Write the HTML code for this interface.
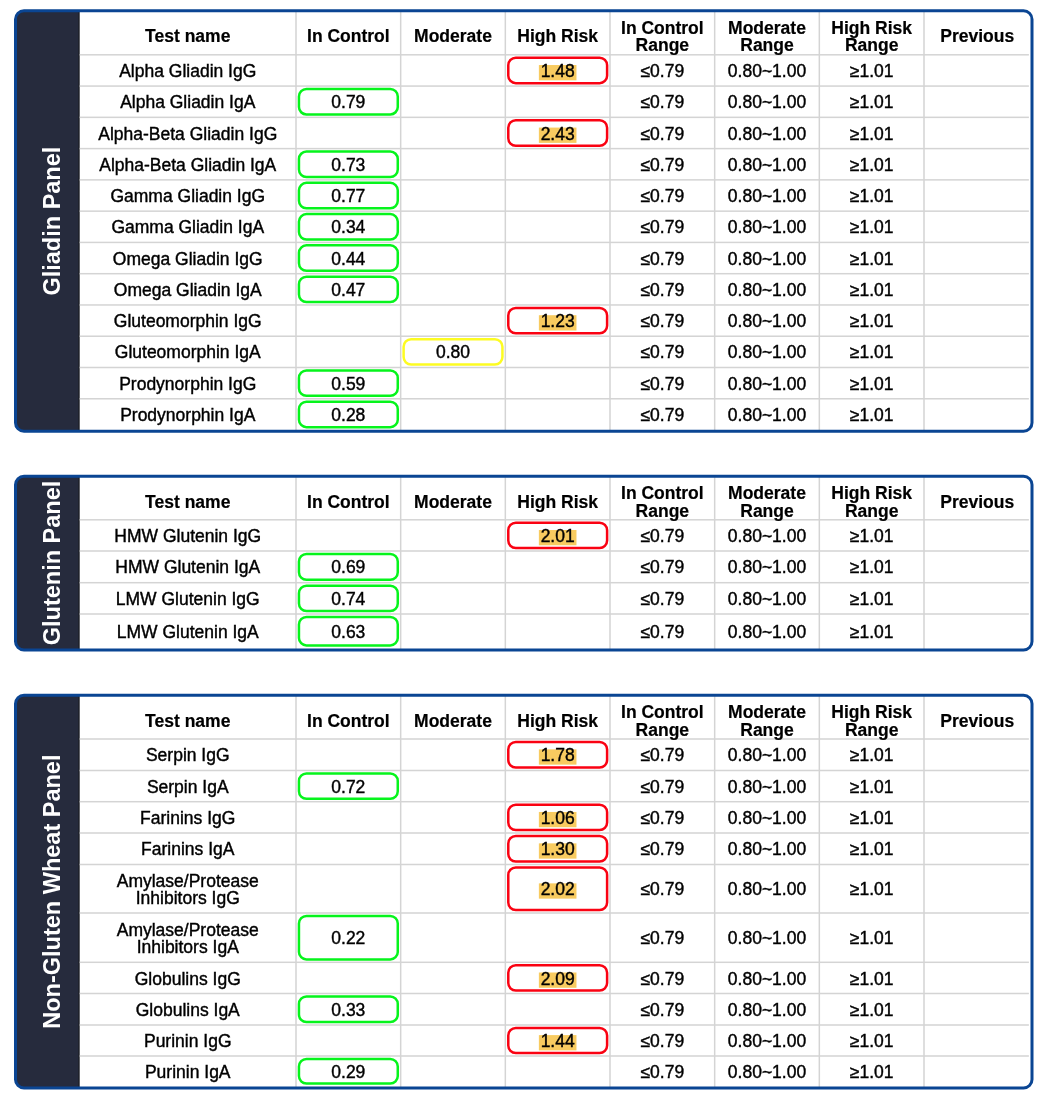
<!DOCTYPE html>
<html><head><meta charset="utf-8"><title>Wheat Panels</title>
<style>
html,body{margin:0;padding:0;background:#fff;}
body{width:1048px;height:1102px;overflow:hidden;}
svg{display:block;will-change:transform;}
text{font-family:"Liberation Sans",sans-serif;fill:#000;text-anchor:middle;}
.bd{font-size:17.5px;stroke:#000;stroke-width:0.4px;}
.hd{font-size:17.5px;font-weight:bold;stroke:#000;stroke-width:0.2px;}
.lbl{font-size:23.5px;font-weight:bold;fill:#fff;}
</style></head>
<body>
<svg width="1048" height="1102" viewBox="0 0 1048 1102">
<clipPath id="clip0"><rect x="15.5" y="10.8" width="1016.5" height="420.45" rx="8.5"/></clipPath>
<g clip-path="url(#clip0)">
<rect x="15.5" y="10.8" width="1016.5" height="420.45" fill="#fff"/>
<rect x="15.5" y="10.8" width="63.4" height="420.45" fill="#262b3d"/>
<rect x="78.1" y="10.8" width="1.6" height="420.45" fill="#1d2029"/>
<rect x="79.7" y="54.05" width="949.2" height="1.5" fill="#d4d4d4"/>
<rect x="79.7" y="85.32" width="949.2" height="1.5" fill="#d4d4d4"/>
<rect x="79.7" y="116.59" width="949.2" height="1.5" fill="#d4d4d4"/>
<rect x="79.7" y="147.86" width="949.2" height="1.5" fill="#d4d4d4"/>
<rect x="79.7" y="179.13" width="949.2" height="1.5" fill="#d4d4d4"/>
<rect x="79.7" y="210.39999999999998" width="949.2" height="1.5" fill="#d4d4d4"/>
<rect x="79.7" y="241.67000000000002" width="949.2" height="1.5" fill="#d4d4d4"/>
<rect x="79.7" y="272.94" width="949.2" height="1.5" fill="#d4d4d4"/>
<rect x="79.7" y="304.21" width="949.2" height="1.5" fill="#d4d4d4"/>
<rect x="79.7" y="335.48" width="949.2" height="1.5" fill="#d4d4d4"/>
<rect x="79.7" y="366.75" width="949.2" height="1.5" fill="#d4d4d4"/>
<rect x="79.7" y="398.02" width="949.2" height="1.5" fill="#d4d4d4"/>
<rect x="295.25" y="10.8" width="1.5" height="420.45" fill="#d4d4d4"/>
<rect x="399.92" y="10.8" width="1.5" height="420.45" fill="#d4d4d4"/>
<rect x="504.58" y="10.8" width="1.5" height="420.45" fill="#d4d4d4"/>
<rect x="609.25" y="10.8" width="1.5" height="420.45" fill="#d4d4d4"/>
<rect x="713.92" y="10.8" width="1.5" height="420.45" fill="#d4d4d4"/>
<rect x="818.58" y="10.8" width="1.5" height="420.45" fill="#d4d4d4"/>
<rect x="923.25" y="10.8" width="1.5" height="420.45" fill="#d4d4d4"/>
</g>
<rect x="15.5" y="10.8" width="1016.5" height="420.45" rx="8.5" fill="none" stroke="#0a4593" stroke-width="3"/>
<text x="52.3" y="221.12" transform="rotate(-90 52.3 221.12)" text-anchor="middle" dominant-baseline="central" class="lbl">Gliadin Panel</text>
<text x="187.75" y="42.10" class="hd">Test name</text>
<text x="348.34" y="42.10" class="hd">In Control</text>
<text x="453.00" y="42.10" class="hd">Moderate</text>
<text x="557.66" y="42.10" class="hd">High Risk</text>
<text x="662.34" y="33.70" class="hd">In Control</text>
<text x="662.34" y="51.10" class="hd">Range</text>
<text x="767.00" y="33.70" class="hd">Moderate</text>
<text x="767.00" y="51.10" class="hd">Range</text>
<text x="871.66" y="33.70" class="hd">High Risk</text>
<text x="871.66" y="51.10" class="hd">Range</text>
<text x="977.25" y="42.10" class="hd">Previous</text>
<text x="187.75" y="77.03" class="bd">Alpha Gliadin IgG</text>
<rect x="508.28" y="57.75" width="98.82" height="25.42" rx="7.5" fill="none" stroke="#fa0212" stroke-width="2.5"/>
<rect x="538.87" y="65.03" width="37.6" height="15.3" fill="#f8cb60"/>
<text x="557.66" y="77.03" class="bd">1.48</text>
<text x="662.34" y="77.03" class="bd">≤0.79</text>
<text x="767.00" y="77.03" class="bd">0.80~1.00</text>
<text x="871.66" y="77.03" class="bd">≥1.01</text>
<text x="187.75" y="108.30" class="bd">Alpha Gliadin IgA</text>
<rect x="298.95" y="89.02" width="98.82" height="25.42" rx="7.5" fill="none" stroke="#06f41c" stroke-width="2.5"/>
<text x="348.34" y="108.30" class="bd">0.79</text>
<text x="662.34" y="108.30" class="bd">≤0.79</text>
<text x="767.00" y="108.30" class="bd">0.80~1.00</text>
<text x="871.66" y="108.30" class="bd">≥1.01</text>
<text x="187.75" y="139.58" class="bd">Alpha-Beta Gliadin IgG</text>
<rect x="508.28" y="120.29" width="98.82" height="25.42" rx="7.5" fill="none" stroke="#fa0212" stroke-width="2.5"/>
<rect x="538.87" y="127.58" width="37.6" height="15.3" fill="#f8cb60"/>
<text x="557.66" y="139.58" class="bd">2.43</text>
<text x="662.34" y="139.58" class="bd">≤0.79</text>
<text x="767.00" y="139.58" class="bd">0.80~1.00</text>
<text x="871.66" y="139.58" class="bd">≥1.01</text>
<text x="187.75" y="170.84" class="bd">Alpha-Beta Gliadin IgA</text>
<rect x="298.95" y="151.56" width="98.82" height="25.42" rx="7.5" fill="none" stroke="#06f41c" stroke-width="2.5"/>
<text x="348.34" y="170.84" class="bd">0.73</text>
<text x="662.34" y="170.84" class="bd">≤0.79</text>
<text x="767.00" y="170.84" class="bd">0.80~1.00</text>
<text x="871.66" y="170.84" class="bd">≥1.01</text>
<text x="187.75" y="202.11" class="bd">Gamma Gliadin IgG</text>
<rect x="298.95" y="182.83" width="98.82" height="25.42" rx="7.5" fill="none" stroke="#06f41c" stroke-width="2.5"/>
<text x="348.34" y="202.11" class="bd">0.77</text>
<text x="662.34" y="202.11" class="bd">≤0.79</text>
<text x="767.00" y="202.11" class="bd">0.80~1.00</text>
<text x="871.66" y="202.11" class="bd">≥1.01</text>
<text x="187.75" y="233.38" class="bd">Gamma Gliadin IgA</text>
<rect x="298.95" y="214.10" width="98.82" height="25.42" rx="7.5" fill="none" stroke="#06f41c" stroke-width="2.5"/>
<text x="348.34" y="233.38" class="bd">0.34</text>
<text x="662.34" y="233.38" class="bd">≤0.79</text>
<text x="767.00" y="233.38" class="bd">0.80~1.00</text>
<text x="871.66" y="233.38" class="bd">≥1.01</text>
<text x="187.75" y="264.66" class="bd">Omega Gliadin IgG</text>
<rect x="298.95" y="245.37" width="98.82" height="25.42" rx="7.5" fill="none" stroke="#06f41c" stroke-width="2.5"/>
<text x="348.34" y="264.66" class="bd">0.44</text>
<text x="662.34" y="264.66" class="bd">≤0.79</text>
<text x="767.00" y="264.66" class="bd">0.80~1.00</text>
<text x="871.66" y="264.66" class="bd">≥1.01</text>
<text x="187.75" y="295.93" class="bd">Omega Gliadin IgA</text>
<rect x="298.95" y="276.64" width="98.82" height="25.42" rx="7.5" fill="none" stroke="#06f41c" stroke-width="2.5"/>
<text x="348.34" y="295.93" class="bd">0.47</text>
<text x="662.34" y="295.93" class="bd">≤0.79</text>
<text x="767.00" y="295.93" class="bd">0.80~1.00</text>
<text x="871.66" y="295.93" class="bd">≥1.01</text>
<text x="187.75" y="327.20" class="bd">Gluteomorphin IgG</text>
<rect x="508.28" y="307.91" width="98.82" height="25.42" rx="7.5" fill="none" stroke="#fa0212" stroke-width="2.5"/>
<rect x="538.87" y="315.20" width="37.6" height="15.3" fill="#f8cb60"/>
<text x="557.66" y="327.20" class="bd">1.23</text>
<text x="662.34" y="327.20" class="bd">≤0.79</text>
<text x="767.00" y="327.20" class="bd">0.80~1.00</text>
<text x="871.66" y="327.20" class="bd">≥1.01</text>
<text x="187.75" y="358.47" class="bd">Gluteomorphin IgA</text>
<rect x="403.62" y="339.18" width="98.81" height="25.42" rx="7.5" fill="none" stroke="#fdfc22" stroke-width="2.5"/>
<text x="453.00" y="358.47" class="bd">0.80</text>
<text x="662.34" y="358.47" class="bd">≤0.79</text>
<text x="767.00" y="358.47" class="bd">0.80~1.00</text>
<text x="871.66" y="358.47" class="bd">≥1.01</text>
<text x="187.75" y="389.74" class="bd">Prodynorphin IgG</text>
<rect x="298.95" y="370.45" width="98.82" height="25.42" rx="7.5" fill="none" stroke="#06f41c" stroke-width="2.5"/>
<text x="348.34" y="389.74" class="bd">0.59</text>
<text x="662.34" y="389.74" class="bd">≤0.79</text>
<text x="767.00" y="389.74" class="bd">0.80~1.00</text>
<text x="871.66" y="389.74" class="bd">≥1.01</text>
<text x="187.75" y="421.00" class="bd">Prodynorphin IgA</text>
<rect x="298.95" y="401.72" width="98.82" height="25.42" rx="7.5" fill="none" stroke="#06f41c" stroke-width="2.5"/>
<text x="348.34" y="421.00" class="bd">0.28</text>
<text x="662.34" y="421.00" class="bd">≤0.79</text>
<text x="767.00" y="421.00" class="bd">0.80~1.00</text>
<text x="871.66" y="421.00" class="bd">≥1.01</text>
<clipPath id="clip1"><rect x="15.5" y="476.2" width="1016.5" height="173.8" rx="8.5"/></clipPath>
<g clip-path="url(#clip1)">
<rect x="15.5" y="476.2" width="1016.5" height="173.8" fill="#fff"/>
<rect x="15.5" y="476.2" width="63.4" height="173.8" fill="#262b3d"/>
<rect x="78.1" y="476.2" width="1.6" height="173.8" fill="#1d2029"/>
<rect x="79.7" y="519.05" width="949.2" height="1.5" fill="#d4d4d4"/>
<rect x="79.7" y="550.25" width="949.2" height="1.5" fill="#d4d4d4"/>
<rect x="79.7" y="581.95" width="949.2" height="1.5" fill="#d4d4d4"/>
<rect x="79.7" y="613.25" width="949.2" height="1.5" fill="#d4d4d4"/>
<rect x="295.25" y="476.2" width="1.5" height="173.8" fill="#d4d4d4"/>
<rect x="399.92" y="476.2" width="1.5" height="173.8" fill="#d4d4d4"/>
<rect x="504.58" y="476.2" width="1.5" height="173.8" fill="#d4d4d4"/>
<rect x="609.25" y="476.2" width="1.5" height="173.8" fill="#d4d4d4"/>
<rect x="713.92" y="476.2" width="1.5" height="173.8" fill="#d4d4d4"/>
<rect x="818.58" y="476.2" width="1.5" height="173.8" fill="#d4d4d4"/>
<rect x="923.25" y="476.2" width="1.5" height="173.8" fill="#d4d4d4"/>
</g>
<rect x="15.5" y="476.2" width="1016.5" height="173.8" rx="8.5" fill="none" stroke="#0a4593" stroke-width="3"/>
<text x="52.3" y="563.0" transform="rotate(-90 52.3 563.0)" text-anchor="middle" dominant-baseline="central" class="lbl">Glutenin Panel</text>
<text x="187.75" y="507.60" class="hd">Test name</text>
<text x="348.34" y="507.60" class="hd">In Control</text>
<text x="453.00" y="507.60" class="hd">Moderate</text>
<text x="557.66" y="507.60" class="hd">High Risk</text>
<text x="662.34" y="499.20" class="hd">In Control</text>
<text x="662.34" y="516.60" class="hd">Range</text>
<text x="767.00" y="499.20" class="hd">Moderate</text>
<text x="767.00" y="516.60" class="hd">Range</text>
<text x="871.66" y="499.20" class="hd">High Risk</text>
<text x="871.66" y="516.60" class="hd">Range</text>
<text x="977.25" y="507.60" class="hd">Previous</text>
<text x="187.75" y="542.00" class="bd">HMW Glutenin IgG</text>
<rect x="508.28" y="522.75" width="98.82" height="25.35" rx="7.5" fill="none" stroke="#fa0212" stroke-width="2.5"/>
<rect x="538.87" y="530.00" width="37.6" height="15.3" fill="#f8cb60"/>
<text x="557.66" y="542.00" class="bd">2.01</text>
<text x="662.34" y="542.00" class="bd">≤0.79</text>
<text x="767.00" y="542.00" class="bd">0.80~1.00</text>
<text x="871.66" y="542.00" class="bd">≥1.01</text>
<text x="187.75" y="573.45" class="bd">HMW Glutenin IgA</text>
<rect x="298.95" y="553.95" width="98.82" height="25.85" rx="7.5" fill="none" stroke="#06f41c" stroke-width="2.5"/>
<text x="348.34" y="573.45" class="bd">0.69</text>
<text x="662.34" y="573.45" class="bd">≤0.79</text>
<text x="767.00" y="573.45" class="bd">0.80~1.00</text>
<text x="871.66" y="573.45" class="bd">≥1.01</text>
<text x="187.75" y="604.95" class="bd">LMW Glutenin IgG</text>
<rect x="298.95" y="585.65" width="98.82" height="25.45" rx="7.5" fill="none" stroke="#06f41c" stroke-width="2.5"/>
<text x="348.34" y="604.95" class="bd">0.74</text>
<text x="662.34" y="604.95" class="bd">≤0.79</text>
<text x="767.00" y="604.95" class="bd">0.80~1.00</text>
<text x="871.66" y="604.95" class="bd">≥1.01</text>
<text x="187.75" y="637.75" class="bd">LMW Glutenin IgA</text>
<rect x="298.95" y="616.95" width="98.82" height="28.45" rx="7.5" fill="none" stroke="#06f41c" stroke-width="2.5"/>
<text x="348.34" y="637.75" class="bd">0.63</text>
<text x="662.34" y="637.75" class="bd">≤0.79</text>
<text x="767.00" y="637.75" class="bd">0.80~1.00</text>
<text x="871.66" y="637.75" class="bd">≥1.01</text>
<clipPath id="clip2"><rect x="15.5" y="695.3" width="1016.5" height="392.70000000000005" rx="8.5"/></clipPath>
<g clip-path="url(#clip2)">
<rect x="15.5" y="695.3" width="1016.5" height="392.70000000000005" fill="#fff"/>
<rect x="15.5" y="695.3" width="63.4" height="392.70000000000005" fill="#262b3d"/>
<rect x="78.1" y="695.3" width="1.6" height="392.70000000000005" fill="#1d2029"/>
<rect x="79.7" y="738.25" width="949.2" height="1.5" fill="#d4d4d4"/>
<rect x="79.7" y="769.75" width="949.2" height="1.5" fill="#d4d4d4"/>
<rect x="79.7" y="800.95" width="949.2" height="1.5" fill="#d4d4d4"/>
<rect x="79.7" y="832.25" width="949.2" height="1.5" fill="#d4d4d4"/>
<rect x="79.7" y="863.75" width="949.2" height="1.5" fill="#d4d4d4"/>
<rect x="79.7" y="912.25" width="949.2" height="1.5" fill="#d4d4d4"/>
<rect x="79.7" y="961.55" width="949.2" height="1.5" fill="#d4d4d4"/>
<rect x="79.7" y="992.75" width="949.2" height="1.5" fill="#d4d4d4"/>
<rect x="79.7" y="1024.25" width="949.2" height="1.5" fill="#d4d4d4"/>
<rect x="79.7" y="1055.25" width="949.2" height="1.5" fill="#d4d4d4"/>
<rect x="295.25" y="695.3" width="1.5" height="392.70000000000005" fill="#d4d4d4"/>
<rect x="399.92" y="695.3" width="1.5" height="392.70000000000005" fill="#d4d4d4"/>
<rect x="504.58" y="695.3" width="1.5" height="392.70000000000005" fill="#d4d4d4"/>
<rect x="609.25" y="695.3" width="1.5" height="392.70000000000005" fill="#d4d4d4"/>
<rect x="713.92" y="695.3" width="1.5" height="392.70000000000005" fill="#d4d4d4"/>
<rect x="818.58" y="695.3" width="1.5" height="392.70000000000005" fill="#d4d4d4"/>
<rect x="923.25" y="695.3" width="1.5" height="392.70000000000005" fill="#d4d4d4"/>
</g>
<rect x="15.5" y="695.3" width="1016.5" height="392.70000000000005" rx="8.5" fill="none" stroke="#0a4593" stroke-width="3"/>
<text x="52.3" y="891.6500000000001" transform="rotate(-90 52.3 891.6500000000001)" text-anchor="middle" dominant-baseline="central" class="lbl">Non-Gluten Wheat Panel</text>
<text x="187.75" y="726.80" class="hd">Test name</text>
<text x="348.34" y="726.80" class="hd">In Control</text>
<text x="453.00" y="726.80" class="hd">Moderate</text>
<text x="557.66" y="726.80" class="hd">High Risk</text>
<text x="662.34" y="718.40" class="hd">In Control</text>
<text x="662.34" y="735.80" class="hd">Range</text>
<text x="767.00" y="718.40" class="hd">Moderate</text>
<text x="767.00" y="735.80" class="hd">Range</text>
<text x="871.66" y="718.40" class="hd">High Risk</text>
<text x="871.66" y="735.80" class="hd">Range</text>
<text x="977.25" y="726.80" class="hd">Previous</text>
<text x="187.75" y="761.35" class="bd">Serpin IgG</text>
<rect x="508.28" y="741.95" width="98.82" height="25.65" rx="7.5" fill="none" stroke="#fa0212" stroke-width="2.5"/>
<rect x="538.87" y="749.35" width="37.6" height="15.3" fill="#f8cb60"/>
<text x="557.66" y="761.35" class="bd">1.78</text>
<text x="662.34" y="761.35" class="bd">≤0.79</text>
<text x="767.00" y="761.35" class="bd">0.80~1.00</text>
<text x="871.66" y="761.35" class="bd">≥1.01</text>
<text x="187.75" y="792.70" class="bd">Serpin IgA</text>
<rect x="298.95" y="773.45" width="98.82" height="25.35" rx="7.5" fill="none" stroke="#06f41c" stroke-width="2.5"/>
<text x="348.34" y="792.70" class="bd">0.72</text>
<text x="662.34" y="792.70" class="bd">≤0.79</text>
<text x="767.00" y="792.70" class="bd">0.80~1.00</text>
<text x="871.66" y="792.70" class="bd">≥1.01</text>
<text x="187.75" y="823.95" class="bd">Farinins IgG</text>
<rect x="508.28" y="804.65" width="98.82" height="25.45" rx="7.5" fill="none" stroke="#fa0212" stroke-width="2.5"/>
<rect x="538.87" y="811.95" width="37.6" height="15.3" fill="#f8cb60"/>
<text x="557.66" y="823.95" class="bd">1.06</text>
<text x="662.34" y="823.95" class="bd">≤0.79</text>
<text x="767.00" y="823.95" class="bd">0.80~1.00</text>
<text x="871.66" y="823.95" class="bd">≥1.01</text>
<text x="187.75" y="855.35" class="bd">Farinins IgA</text>
<rect x="508.28" y="835.95" width="98.82" height="25.65" rx="7.5" fill="none" stroke="#fa0212" stroke-width="2.5"/>
<rect x="538.87" y="843.35" width="37.6" height="15.3" fill="#f8cb60"/>
<text x="557.66" y="855.35" class="bd">1.30</text>
<text x="662.34" y="855.35" class="bd">≤0.79</text>
<text x="767.00" y="855.35" class="bd">0.80~1.00</text>
<text x="871.66" y="855.35" class="bd">≥1.01</text>
<text x="187.75" y="886.75" class="bd">Amylase/Protease</text>
<text x="187.75" y="903.75" class="bd">Inhibitors IgG</text>
<rect x="508.28" y="867.45" width="98.82" height="42.65" rx="7.5" fill="none" stroke="#fa0212" stroke-width="2.5"/>
<rect x="538.87" y="883.35" width="37.6" height="15.3" fill="#f8cb60"/>
<text x="557.66" y="895.35" class="bd">2.02</text>
<text x="662.34" y="895.35" class="bd">≤0.79</text>
<text x="767.00" y="895.35" class="bd">0.80~1.00</text>
<text x="871.66" y="895.35" class="bd">≥1.01</text>
<text x="187.75" y="935.65" class="bd">Amylase/Protease</text>
<text x="187.75" y="952.65" class="bd">Inhibitors IgA</text>
<rect x="298.95" y="915.95" width="98.82" height="43.45" rx="7.5" fill="none" stroke="#06f41c" stroke-width="2.5"/>
<text x="348.34" y="944.25" class="bd">0.22</text>
<text x="662.34" y="944.25" class="bd">≤0.79</text>
<text x="767.00" y="944.25" class="bd">0.80~1.00</text>
<text x="871.66" y="944.25" class="bd">≥1.01</text>
<text x="187.75" y="984.50" class="bd">Globulins IgG</text>
<rect x="508.28" y="965.25" width="98.82" height="25.35" rx="7.5" fill="none" stroke="#fa0212" stroke-width="2.5"/>
<rect x="538.87" y="972.50" width="37.6" height="15.3" fill="#f8cb60"/>
<text x="557.66" y="984.50" class="bd">2.09</text>
<text x="662.34" y="984.50" class="bd">≤0.79</text>
<text x="767.00" y="984.50" class="bd">0.80~1.00</text>
<text x="871.66" y="984.50" class="bd">≥1.01</text>
<text x="187.75" y="1015.85" class="bd">Globulins IgA</text>
<rect x="298.95" y="996.45" width="98.82" height="25.65" rx="7.5" fill="none" stroke="#06f41c" stroke-width="2.5"/>
<text x="348.34" y="1015.85" class="bd">0.33</text>
<text x="662.34" y="1015.85" class="bd">≤0.79</text>
<text x="767.00" y="1015.85" class="bd">0.80~1.00</text>
<text x="871.66" y="1015.85" class="bd">≥1.01</text>
<text x="187.75" y="1047.10" class="bd">Purinin IgG</text>
<rect x="508.28" y="1027.95" width="98.82" height="25.15" rx="7.5" fill="none" stroke="#fa0212" stroke-width="2.5"/>
<rect x="538.87" y="1035.10" width="37.6" height="15.3" fill="#f8cb60"/>
<text x="557.66" y="1047.10" class="bd">1.44</text>
<text x="662.34" y="1047.10" class="bd">≤0.79</text>
<text x="767.00" y="1047.10" class="bd">0.80~1.00</text>
<text x="871.66" y="1047.10" class="bd">≥1.01</text>
<text x="187.75" y="1077.80" class="bd">Purinin IgA</text>
<rect x="298.95" y="1058.95" width="98.82" height="24.55" rx="7.5" fill="none" stroke="#06f41c" stroke-width="2.5"/>
<text x="348.34" y="1077.80" class="bd">0.29</text>
<text x="662.34" y="1077.80" class="bd">≤0.79</text>
<text x="767.00" y="1077.80" class="bd">0.80~1.00</text>
<text x="871.66" y="1077.80" class="bd">≥1.01</text>
</svg>
</body></html>
